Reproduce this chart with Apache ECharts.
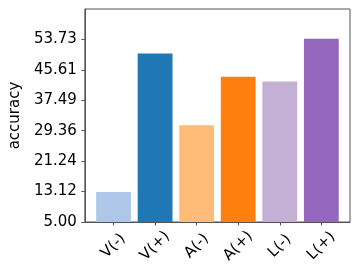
<!DOCTYPE html>
<html>
<head>
<meta charset="utf-8">
<script src="https://cdn.jsdelivr.net/npm/echarts@6/dist/echarts.min.js"></script>
<style>
html,body{margin:0;padding:0;background:#fff;}
#chart{width:359px;height:274px;}
</style>
</head>
<body>
<div id="chart"></div>
<script>
const categories = ["V(-)", "V(+)", "A(-)", "A(+)", "L(-)", "L(+)"];
const values = [13.0, 50.0, 30.8, 43.8, 42.5, 53.9];
const colors = ["#aec7e8", "#1f77b4", "#ffbb78", "#ff7f0e", "#c5b0d5", "#9467bd"];
const yTicks = [5.00, 13.12, 21.24, 29.36, 37.49, 45.61, 53.73];
const yMin = 5.00;
const yMax = 61.855;
const xMin = -0.69;
const xMax = 5.69;

const positions = categories.map((c, i) => i);
const chart = echarts.init(document.getElementById('chart'), null, {renderer: 'canvas'});
const font = 'DejaVu Sans';
const axisColor = '#555';
chart.setOption({
  animation: false,
  backgroundColor: '#fff',
  grid: {left: 73, right: 9, top: 9, bottom: 52, show: true, borderColor: axisColor, borderWidth: 1, backgroundColor: 'transparent'},
  xAxis: {
    type: 'value',
    min: xMin, max: xMax,
    axisLine: {show: true, onZero: false, lineStyle: {color: axisColor, width: 1}},
    axisTick: {show: true, length: 3.5, customValues: positions, lineStyle: {color: axisColor}},
    splitLine: {show: false},
    axisLabel: {
      customValues: positions,
      rotate: 45,
      align: 'center',
      verticalAlign: 'middle',
      margin: 24,
      fontFamily: font, fontSize: 15, color: '#000',
      formatter: v => categories[Math.round(v)]
    }
  },
  yAxis: {
    type: 'value',
    min: yMin, max: yMax,
    name: 'accuracy',
    nameLocation: 'middle',
    nameGap: 59,
    nameTextStyle: {fontFamily: font, fontSize: 15, color: '#000'},
    axisLine: {show: true, onZero: false, lineStyle: {color: axisColor, width: 1}},
    axisTick: {show: true, length: 3.5, customValues: yTicks, lineStyle: {color: axisColor}},
    splitLine: {show: false},
    axisLabel: {
      customValues: yTicks,
      margin: 8,
      fontFamily: font, fontSize: 15, color: '#000',
      formatter: v => v.toFixed(2)
    }
  },
  series: [{
    type: 'bar',
    barWidth: 34.8,
    clip: true,
    data: values.map((v, i) => ({value: [positions[i], v], itemStyle: {color: colors[i]}}))
  }]
});
</script>
</body>
</html>
